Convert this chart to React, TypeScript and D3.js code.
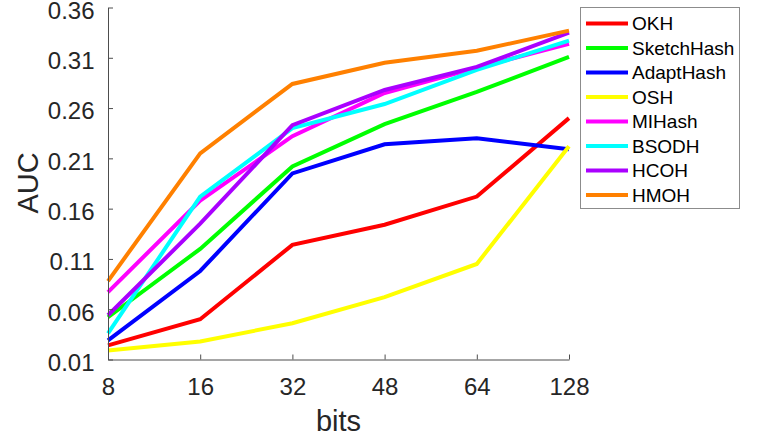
import { useEffect, useRef } from 'react';
import * as d3 from 'd3';

const bits = ['8', '16', '32', '48', '64', '128'];
const yTicks = [0.01, 0.06, 0.11, 0.16, 0.21, 0.26, 0.31, 0.36];

const methods = ['OKH', 'SketchHash', 'AdaptHash', 'OSH', 'MIHash', 'BSODH', 'HCOH', 'HMOH'];
const colors = ['#ff0000', '#00ff00', '#0000ff', '#ffff00', '#ff00ff', '#00ffff', '#aa00ff', '#ff8000'];

const okh = [0.024, 0.050, 0.124, 0.144, 0.172, 0.250];
const sketchHash = [0.052, 0.120, 0.202, 0.244, 0.276, 0.311];
const adaptHash = [0.029, 0.098, 0.195, 0.224, 0.230, 0.219];
const osh = [0.019, 0.028, 0.046, 0.072, 0.105, 0.222];
const miHash = [0.077, 0.168, 0.232, 0.275, 0.300, 0.324];
const bsodh = [0.036, 0.172, 0.240, 0.264, 0.298, 0.327];
const hcoh = [0.054, 0.145, 0.243, 0.278, 0.301, 0.335];
const hmoh = [0.088, 0.215, 0.284, 0.305, 0.317, 0.337];

const seriesValues = [okh, sketchHash, adaptHash, osh, miHash, bsodh, hcoh, hmoh];

const font = 'Helvetica, "Liberation Sans", Arial, sans-serif';
const textColor = '#262626';

export default function App() {
  const svgRef = useRef<SVGSVGElement>(null);

  useEffect(() => {
    if (!svgRef.current) return;
    const svg = d3.select(svgRef.current);
    svg.selectAll('*').remove();

    const left = 108;
    const right = 569;
    const top = 7.5;
    const bottom = 359.5;

    const x = d3.scalePoint<string>().domain(bits).range([left, right]);
    const y = d3.scaleLinear().domain([0.01, 0.36]).range([bottom, top]);

    // lines first, axes drawn over them
    const line = d3
      .line<number>()
      .x((_, i) => x(bits[i])!)
      .y((d) => y(d));

    seriesValues.forEach((vals, i) => {
      svg
        .append('path')
        .attr('d', line(vals))
        .attr('fill', 'none')
        .attr('stroke', colors[i])
        .attr('stroke-width', 4)
        .attr('stroke-linejoin', 'miter');
    });

    const xAxis = d3
      .axisBottom(x)
      .tickSizeInner(-5)
      .tickSizeOuter(0)
      .tickPadding(18);
    const gx = svg.append('g').attr('transform', `translate(0,${bottom})`).call(xAxis);
    gx.selectAll('text')
      .attr('fill', textColor)
      .attr('font-size', 24)
      .attr('font-family', font)
      .attr('dy', '0.71em');

    const yAxis = d3
      .axisLeft(y)
      .tickValues(yTicks)
      .tickFormat(d3.format('.2f'))
      .tickSizeInner(-5)
      .tickSizeOuter(0)
      .tickPadding(13.5);
    const gy = svg.append('g').attr('transform', `translate(${left},0)`).call(yAxis);
    gy.selectAll('text')
      .attr('fill', textColor)
      .attr('font-size', 24)
      .attr('font-family', font)
      .attr('dy', '0.45em');

    svg.selectAll<SVGElement, unknown>('.domain, .tick line').attr('stroke', '#4d4d4d').attr('stroke-width', 1);

    svg
      .append('text')
      .attr('x', (left + right) / 2)
      .attr('y', 431)
      .attr('text-anchor', 'middle')
      .attr('fill', textColor)
      .attr('font-size', 29)
      .attr('font-family', font)
      .text('bits');

    svg
      .append('text')
      .attr('transform', `translate(38,${183}) rotate(-90)`)
      .attr('text-anchor', 'middle')
      .attr('fill', textColor)
      .attr('font-size', 29)
      .attr('font-family', font)
      .text('AUC');

    // legend
    const lg = svg.append('g');
    lg.append('rect')
      .attr('x', 580.5)
      .attr('y', 7.5)
      .attr('width', 159)
      .attr('height', 201)
      .attr('fill', '#ffffff')
      .attr('stroke', '#8c8c8c')
      .attr('stroke-width', 1);

    methods.forEach((name, i) => {
      const ly = 23.5 + i * 24.5;
      lg.append('line')
        .attr('x1', 586)
        .attr('x2', 628)
        .attr('y1', ly)
        .attr('y2', ly)
        .attr('stroke', colors[i])
        .attr('stroke-width', 4);
      lg.append('text')
        .attr('x', 632)
        .attr('y', ly)
        .attr('dy', '0.36em')
        .attr('fill', '#000000')
        .attr('font-size', 19)
        .attr('font-family', font)
        .text(name);
    });
  }, []);

  return (
    <svg
      ref={svgRef}
      width={770}
      height={440}
      style={{ position: 'absolute', left: 0, top: 0, background: '#ffffff' }}
    />
  );
}
